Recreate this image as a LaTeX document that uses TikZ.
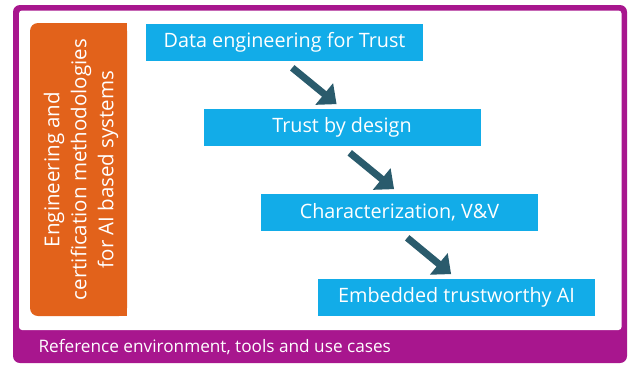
\documentclass[tikz,border=0pt]{standalone}
\usepackage{fontspec}
\setmainfont{Open Sans}
\usepackage{tikz}
\usetikzlibrary{arrows.meta}

\definecolor{framepurple}{RGB}{168,22,142}
\definecolor{sideorange}{RGB}{226,98,27}
\definecolor{boxblue}{RGB}{18,172,232}
\definecolor{arrowteal}{RGB}{42,91,108}

\begin{document}
\begin{tikzpicture}
      [x=1pt,y=-1pt,
       blue node/.style={fill=boxblue,text=white,minimum width=277pt,minimum height=37.5pt,
         inner sep=0pt,font=\fontsize{19.8}{22}\selectfont},
       side text/.style={text=white,align=center,rotate=90,font=\fontsize{20.5}{27}\selectfont},
       flow/.style={draw=arrowteal,line width=7pt,shorten <=10pt,shorten >=7pt,
         -{Triangle[length=16pt,width=27pt]}}]
        \useasboundingbox (0,0) rectangle (632,365);

        % frame and footer band
        \fill[framepurple,rounded corners=7pt] (13,5) rectangle (627,363);
        \fill[white,rounded corners=3pt] (19,10.5) rectangle (621.5,330);
        \node[anchor=west,text=white,font=\fontsize{17.2}{20}\selectfont] (footer) at (35,347)
          {Reference environment, tools and use cases};

        % side bar
        \fill[sideorange,rounded corners=8pt] (30,23) rectangle (127,316);
        \fill[sideorange] (100,23) rectangle (127,316);
        \node[side text] (side) at (81,169.5)
          {Engineering and\\certification methodologies\\for AI based systems};

        \node[blue node] (b1) at (284.5,42.5) {Data engineering for Trust};
        \node[blue node] (b2) at (342,127.5)  {Trust by design};
        \node[blue node] (b3) at (399.5,212.5) {Characterization, V\&V};
        \node[blue node] (b4) at (456.5,297.5)  {Embedded trustworthy AI};

        \draw[flow] (b1.south) -- (b2.north);
        \draw[flow] (b2.south) -- (b3.north);
        \draw[flow] (b3.south) -- (b4.north);

      \end{tikzpicture}
\end{document}
